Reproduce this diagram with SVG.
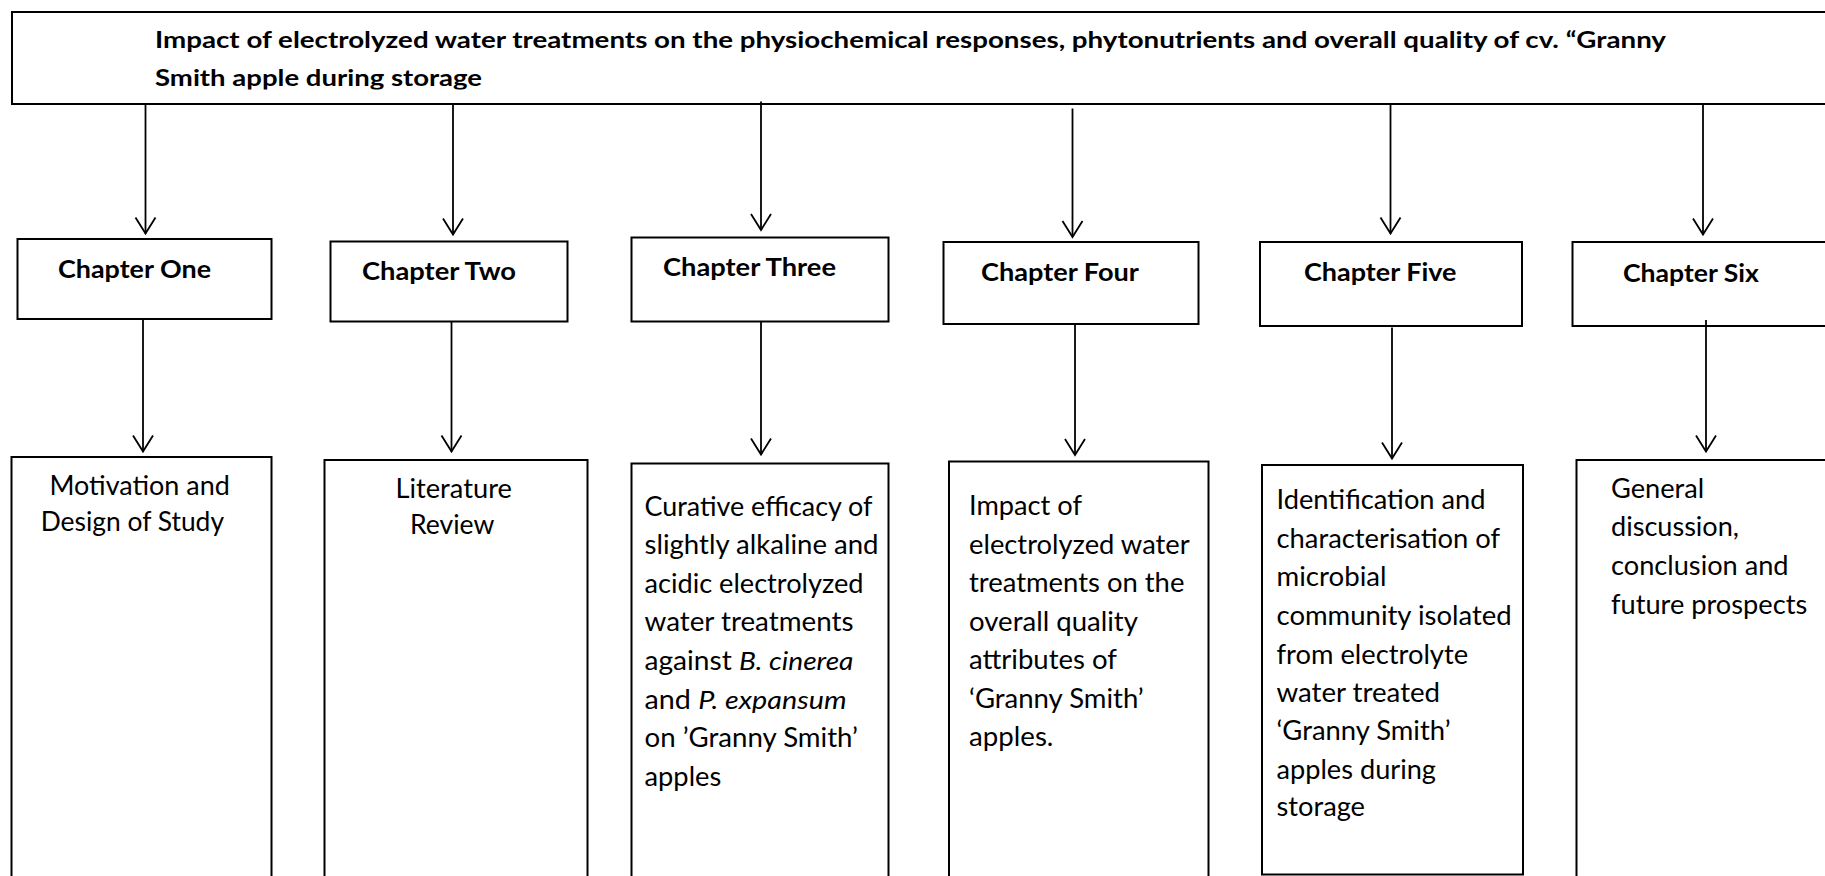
<svg xmlns="http://www.w3.org/2000/svg" width="1825" height="876" viewBox="0 0 1825 876">
  <style>
    .box { fill: #ffffff; stroke: #000000; stroke-width: 2; }
    .title { font-family: Lato, "Liberation Sans", sans-serif; font-weight: bold; font-size: 22px; fill: #000; }
    .head { font-family: Lato, "Liberation Sans", sans-serif; font-weight: bold; font-size: 25px; fill: #000; }
    .body { font-family: Lato, "Liberation Sans", sans-serif; font-size: 26px; fill: #000; }
    .conn { stroke: #000000; stroke-width: 1.8; fill: none; marker-end: url(#arrow); }
  </style>
  <defs>
    <marker id="arrow" markerUnits="userSpaceOnUse" viewBox="-18 -12 20 24" refX="0" refY="0" markerWidth="20" markerHeight="24" orient="auto">
      <path d="M-16,-10 L0,0 L-16,10" fill="none" stroke="#000" stroke-width="1.8"/>
    </marker>
    <clipPath id="titleClip">
      <rect x="0" y="0" width="1825" height="89.5"/>
    </clipPath>
  </defs>
  <rect x="0" y="0" width="1825" height="876" fill="#ffffff"/>

  <g id="title-node">
    <rect class="box" x="12" y="12" width="1830" height="92"/>
    <g clip-path="url(#titleClip)">
      <text class="title" x="155" y="48" textLength="1511" lengthAdjust="spacingAndGlyphs">Impact of electrolyzed water treatments on the physiochemical responses, phytonutrients and overall quality of cv. “Granny</text>
      <text class="title" x="155" y="86" textLength="327" lengthAdjust="spacingAndGlyphs">Smith apple during storage</text>
    </g>
  </g>

  <g id="chapter-one">
    <rect class="box" x="17.5" y="239" width="254" height="80"/>
    <text class="head" x="58" y="278" textLength="153" lengthAdjust="spacingAndGlyphs">Chapter One</text>
  </g>
  <g id="chapter-two">
    <rect class="box" x="330.5" y="241.5" width="237" height="80"/>
    <text class="head" x="362" y="280" textLength="154" lengthAdjust="spacingAndGlyphs">Chapter Two</text>
  </g>
  <g id="chapter-three">
    <rect class="box" x="631.5" y="237.5" width="257" height="84"/>
    <text class="head" x="663" y="276" textLength="173" lengthAdjust="spacingAndGlyphs">Chapter Three</text>
  </g>
  <g id="chapter-four">
    <rect class="box" x="943.5" y="242" width="255" height="82"/>
    <text class="head" x="981" y="281" textLength="158" lengthAdjust="spacingAndGlyphs">Chapter Four</text>
  </g>
  <g id="chapter-five">
    <rect class="box" x="1260" y="242" width="262" height="84"/>
    <text class="head" x="1304" y="281" textLength="152.5" lengthAdjust="spacingAndGlyphs">Chapter Five</text>
  </g>
  <g id="chapter-six">
    <rect class="box" x="1572.5" y="242" width="270" height="84"/>
    <text class="head" x="1623" y="281.5" textLength="136" lengthAdjust="spacingAndGlyphs">Chapter Six</text>
  </g>

  <g id="content-one">
    <rect class="box" x="11.5" y="457" width="260" height="440"/>
    <text class="body" x="49.4" y="494.7" textLength="180.4" lengthAdjust="spacingAndGlyphs">Motivation and</text>
    <text class="body" x="40.7" y="531.4" textLength="183.3" lengthAdjust="spacingAndGlyphs">Design of Study</text>
  </g>
  <g id="content-two">
    <rect class="box" x="324.5" y="460" width="263" height="440"/>
    <text class="body" x="395.5" y="497.6" textLength="116.4" lengthAdjust="spacingAndGlyphs">Literature</text>
    <text class="body" x="410" y="534" textLength="84.4" lengthAdjust="spacingAndGlyphs">Review</text>
  </g>
  <g id="content-three">
    <rect class="box" x="631.5" y="463.5" width="257" height="440"/>
    <text class="body" x="644.5" y="516" textLength="228" lengthAdjust="spacingAndGlyphs">Curative efficacy of</text>
    <text class="body" x="644.5" y="554.2" textLength="234" lengthAdjust="spacingAndGlyphs">slightly alkaline and</text>
    <text class="body" x="644.5" y="592.8" textLength="219" lengthAdjust="spacingAndGlyphs">acidic electrolyzed</text>
    <text class="body" x="644.5" y="631.4" textLength="209" lengthAdjust="spacingAndGlyphs">water treatments</text>
    <text class="body" x="644.5" y="670.3" textLength="209" lengthAdjust="spacingAndGlyphs">against <tspan font-style="italic">B. cinerea</tspan></text>
    <text class="body" x="644.5" y="708.5" textLength="202" lengthAdjust="spacingAndGlyphs">and <tspan font-style="italic">P. expansum</tspan></text>
    <text class="body" x="644.5" y="747.1" textLength="213.5" lengthAdjust="spacingAndGlyphs">on ’Granny Smith’</text>
    <text class="body" x="644.5" y="785.7" textLength="76.8" lengthAdjust="spacingAndGlyphs">apples</text>
  </g>
  <g id="content-four">
    <rect class="box" x="949" y="461.5" width="259.5" height="440"/>
    <text class="body" x="969" y="514.9" textLength="113" lengthAdjust="spacingAndGlyphs">Impact of</text>
    <text class="body" x="969" y="553.5" textLength="220.7" lengthAdjust="spacingAndGlyphs">electrolyzed water</text>
    <text class="body" x="969" y="592" textLength="215.4" lengthAdjust="spacingAndGlyphs">treatments on the</text>
    <text class="body" x="969" y="630.6" textLength="168.9" lengthAdjust="spacingAndGlyphs">overall quality</text>
    <text class="body" x="969" y="668.5" textLength="147.9" lengthAdjust="spacingAndGlyphs">attributes of</text>
    <text class="body" x="969" y="707.8" textLength="174.7" lengthAdjust="spacingAndGlyphs">‘Granny Smith’</text>
    <text class="body" x="969" y="745.6" textLength="84.4" lengthAdjust="spacingAndGlyphs">apples.</text>
  </g>
  <g id="content-five">
    <rect class="box" x="1262" y="465" width="261" height="409.5"/>
    <text class="body" x="1276.5" y="509.4" textLength="209" lengthAdjust="spacingAndGlyphs">Identification and</text>
    <text class="body" x="1276.5" y="548" textLength="223.6" lengthAdjust="spacingAndGlyphs">characterisation of</text>
    <text class="body" x="1276.5" y="585.8" textLength="110" lengthAdjust="spacingAndGlyphs">microbial</text>
    <text class="body" x="1276.5" y="625.1" textLength="235.2" lengthAdjust="spacingAndGlyphs">community isolated</text>
    <text class="body" x="1276.5" y="663.7" textLength="191.6" lengthAdjust="spacingAndGlyphs">from electrolyte</text>
    <text class="body" x="1276.5" y="701.5" textLength="163.6" lengthAdjust="spacingAndGlyphs">water treated</text>
    <text class="body" x="1276.5" y="739.7" textLength="174" lengthAdjust="spacingAndGlyphs">‘Granny Smith’</text>
    <text class="body" x="1276.5" y="778.7" textLength="159.5" lengthAdjust="spacingAndGlyphs">apples during</text>
    <text class="body" x="1276.5" y="816.1" textLength="88.5" lengthAdjust="spacingAndGlyphs">storage</text>
  </g>
  <g id="content-six">
    <rect class="box" x="1576.5" y="460" width="270" height="440"/>
    <text class="body" x="1611" y="497.6" textLength="93.2" lengthAdjust="spacingAndGlyphs">General</text>
    <text class="body" x="1611" y="535.8" textLength="128" lengthAdjust="spacingAndGlyphs">discussion,</text>
    <text class="body" x="1611" y="574.8" textLength="177.6" lengthAdjust="spacingAndGlyphs">conclusion and</text>
    <text class="body" x="1611" y="614.1" textLength="196.2" lengthAdjust="spacingAndGlyphs">future prospects</text>
  </g>

  <g id="connectors">
    <line class="conn" x1="145.5" y1="104" x2="145.5" y2="233.5"/>
    <line class="conn" x1="453" y1="104" x2="453" y2="234.5"/>
    <line class="conn" x1="761" y1="101.5" x2="761" y2="230"/>
    <line class="conn" x1="1072.5" y1="108.5" x2="1072.5" y2="237"/>
    <line class="conn" x1="1390.5" y1="104" x2="1390.5" y2="233.5"/>
    <line class="conn" x1="1703" y1="104" x2="1703" y2="234.5"/>
    <line class="conn" x1="143" y1="319" x2="143" y2="451.5"/>
    <line class="conn" x1="451.5" y1="321.5" x2="451.5" y2="451.5"/>
    <line class="conn" x1="761" y1="321.5" x2="761" y2="454.5"/>
    <line class="conn" x1="1075" y1="324" x2="1075" y2="455"/>
    <line class="conn" x1="1392" y1="327.5" x2="1392" y2="458.5"/>
    <line class="conn" x1="1706" y1="320" x2="1706" y2="451.5"/>
  </g>
</svg>
